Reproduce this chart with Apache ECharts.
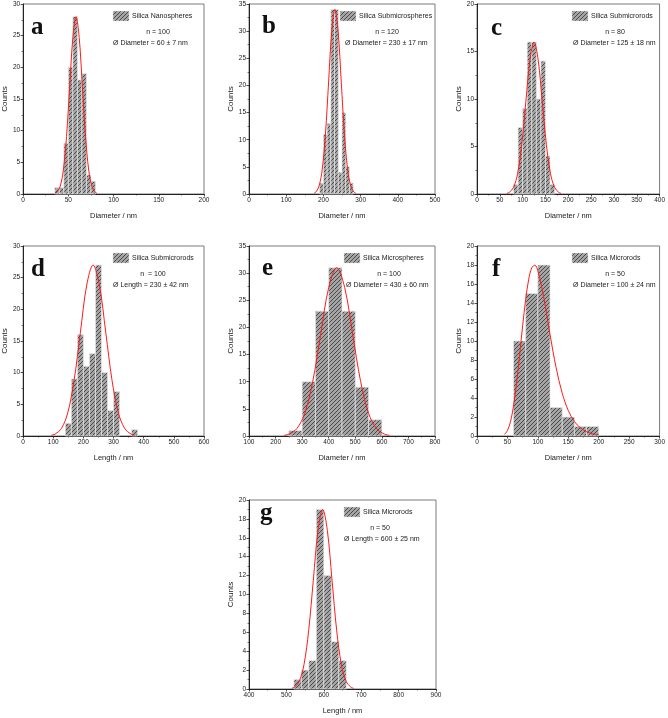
<!DOCTYPE html>
<html><head><meta charset="utf-8">
<script src="https://cdn.jsdelivr.net/npm/echarts@6/dist/echarts.min.js"></script>
<style>html,body{margin:0;padding:0;background:#fff}#c{width:668px;height:718px}</style>
</head><body><div id="c"></div>
<script>
// ---------------- DATA ----------------
// histogram bins: lower edges, bin width, counts
const aBinStart = [35,40,45,50,55,60,65,70,75];            const aBinWidth = 5;  const aCounts = [1,1,8,20,28,18,19,3,2];
const bBinStart = [190,200,210,220,230,240,250,260,270];   const bBinWidth = 10; const bCounts = [2,11,13,34,34,4,15,5,2];
const cBinStart = [80,90,100,110,120,130,140,150,160];     const cBinWidth = 10; const cCounts = [1,7,9,16,16,10,14,4,1];
const dBinStart = [140,160,180,200,220,240,260,280,300,360]; const dBinWidth = 20; const dCounts = [2,9,16,11,13,27,10,4,7,1];
const eBinStart = [250,300,350,400,450,500,550];           const eBinWidth = 50; const eCounts = [1,10,23,31,23,9,3];
const fBinStart = [60,80,100,120,140,160,180];             const fBinWidth = 20; const fCounts = [10,15,18,3,2,1,1];
const gBinStart = [520,540,560,580,600,620,640];           const gBinWidth = 20; const gCounts = [1,2,3,19,12,5,3];

// fitted distribution curves
const aCurveX = [35.4,37.5,41,44.5,48,51.5,55,58.5,62,65.5,69,72.5,76,79.5,81.6];
const aCurveY = [0.12,0.31,1.23,3.79,9.09,16.98,24.71,28,24.71,16.98,9.09,3.79,1.23,0.31,0.12];
const bCurveX = [174.9,180,188.5,197,205.5,214,222.5,231,239.5,248,256.5,265,273.5,282,287.1];
const bCurveY = [0.15,0.38,1.49,4.6,11.04,20.62,30.01,34,30.01,20.62,11.04,4.6,1.49,0.38,0.15];
const cCurveX = [65.6,71,80,89,98,107,116,125,134,143,152,161,170,179,184.4];
const cCurveY = [0.07,0.18,0.7,2.16,5.2,9.7,14.12,16,14.12,9.7,5.2,2.16,0.7,0.18,0.07];
const dCurveX = [93.4,106,127,148,169,190,211,232,253,274,295,316,337,358,370.6];
const dCurveY = [0.12,0.3,1.19,3.65,8.77,16.38,23.83,27,23.83,16.38,8.77,3.65,1.19,0.3,0.12];
const eCurveX = [232,250,280,310,340,370,400,430,460,490,520,550,580,610,628];
const eCurveY = [0.13,0.34,1.36,4.19,10.07,18.8,27.36,31,27.36,18.8,10.07,4.19,1.36,0.34,0.13];
const fCurveX = [45,50,55,60,65,70,75,80,85,90,95,100,110,120,130,140,150,160,170,180,190,200];
const fCurveY = [0.16,0.57,1.5,3.15,5.55,8.5,11.6,14.4,16.51,17.71,17.98,17.39,14.49,10.68,7.19,4.51,2.68,1.53,0.85,0.46,0.24,0.13];
const gCurveX = [514.5,522,534.5,547,559.5,572,584.5,597,609.5,622,634.5,647,659.5,672,679.5];
const gCurveY = [0.08,0.21,0.83,2.57,6.17,11.52,16.77,19,16.77,11.52,6.17,2.57,0.83,0.21,0.08];

// axis ranges / ticks
const xMins = [0,0,0,0,100,0,400];
const xMaxs = [200,500,400,600,800,300,900];
const xIntervals = [50,100,50,100,100,50,100];
const yMaxs = [30,35,20,30,35,20,20];
const yIntervals = [5,5,5,5,5,2,2];

// texts
const panelLetters = ['a','b','c','d','e','f','g'];
const legendNames = ['Silica Nanospheres','Silica Submicrospheres','Silica Submicrorods','Silica Submicrorods','Silica Microspheres','Silica Microrods','Silica Microrods'];
const nLines = ['n = 100','n = 120','n = 80','n  = 100','n = 100','n = 50','n = 50'];
const statLines = ['Ø Diameter = 60 ± 7 nm','Ø Diameter = 230 ± 17 nm','Ø Diameter = 125 ± 18 nm','Ø Length = 230 ± 42 nm','Ø Diameter = 430 ± 60 nm','Ø Diameter = 100 ± 24 nm','Ø Length = 600 ± 25 nm'];
const xNames = ['Diameter / nm','Diameter / nm','Diameter / nm','Length / nm','Diameter / nm','Diameter / nm','Length / nm'];
const yName = 'Counts';

// ---------------- LAYOUT ----------------
const grids = [
  {left:18, top:4, width:186, height:190},
  {left:249, top:4, width:186, height:190},
  {left:477, top:4, width:186, height:190},
  {left:18, top:246, width:186, height:190},
  {left:249, top:246, width:186, height:190},
  {left:477, top:246, width:186, height:190},
  {left:249, top:500, width:187, height:189}
];
const yNameGaps = [11,13,13,11,13,13,13];
const rectRelX = [95,91,95,95,95,95,95];
const nRelX = [140,138,138,135,140,138,131];
const statRelX = [95,96,96,95,97,96,95];
const letterX = [31,262,491,31,262,492,260];
const letterBase = [36,35,37,278,277,278,522];

const binStarts = [aBinStart,bBinStart,cBinStart,dBinStart,eBinStart,fBinStart,gBinStart];
const binWidths = [aBinWidth,bBinWidth,cBinWidth,dBinWidth,eBinWidth,fBinWidth,gBinWidth];
const binCounts = [aCounts,bCounts,cCounts,dCounts,eCounts,fCounts,gCounts];
const curveXs = [aCurveX,bCurveX,cCurveX,dCurveX,eCurveX,fCurveX,gCurveX];
const curveYs = [aCurveY,bCurveY,cCurveY,dCurveY,eCurveY,fCurveY,gCurveY];

// hatch pattern
const pc = document.createElement('canvas');
pc.width = 4; pc.height = 4;
const pctx = pc.getContext('2d');
pctx.fillStyle = '#a4a4a4'; pctx.fillRect(0,0,4,4);
pctx.strokeStyle = '#4a4a4a'; pctx.lineWidth = 1;
pctx.beginPath(); pctx.moveTo(-1,1); pctx.lineTo(1,-1); pctx.moveTo(0,4); pctx.lineTo(4,0); pctx.moveTo(3,5); pctx.lineTo(5,3); pctx.stroke();
const hatch = {image: pc, repeat: 'repeat'};

const FONT = '"Liberation Sans", Arial, sans-serif';
const chart = echarts.init(document.getElementById('c'), null, {renderer:'canvas'});

const gridOpt = [], xAxes = [], yAxes = [], series = [], graphics = [];
grids.forEach((g, i) => {
  gridOpt.push(Object.assign({show:true, borderColor:'#7a7a7a', borderWidth:1, containLabel:false}, g));
  xAxes.push({
    type:'value', gridIndex:i, min:xMins[i], max:xMaxs[i], interval:xIntervals[i],
    name:xNames[i], nameLocation:'middle', nameGap:18,
    nameTextStyle:{fontSize:7.5, color:'#222', fontFamily:FONT},
    axisLine:{show:true, onZero:false, lineStyle:{color:'#222', width:1}},
    axisTick:{show:true, inside:false, length:2.5, lineStyle:{color:'#222', width:0.8}},
    minorTick:{show:true, splitNumber:2, length:1.5, lineStyle:{color:'#222', width:0.6}},
    splitLine:{show:false},
    axisLabel:{fontSize:6.5, color:'#222', margin:3, fontFamily:FONT}
  });
  yAxes.push({
    type:'value', gridIndex:i, min:0, max:yMaxs[i], interval:yIntervals[i],
    name:yName, nameLocation:'middle', nameGap:yNameGaps[i],
    nameTextStyle:{fontSize:8, color:'#222', fontFamily:FONT},
    axisLine:{show:true, onZero:false, lineStyle:{color:'#222', width:1}},
    axisTick:{show:true, inside:false, length:2.5, lineStyle:{color:'#222', width:0.8}},
    minorTick:{show:true, splitNumber:2, length:1.5, lineStyle:{color:'#222', width:0.6}},
    splitLine:{show:false},
    axisLabel:{fontSize:6.5, color:'#222', margin:3, fontFamily:FONT}
  });
  const bars = binStarts[i].map((s, k) => [s, s + binWidths[i], binCounts[i][k]]);
  series.push({
    type:'custom', xAxisIndex:i, yAxisIndex:i, data:bars,
    encode:{x:[0,1], y:2},
    renderItem:function(params, api){
      const p0 = api.coord([api.value(0), api.value(2)]);
      const p1 = api.coord([api.value(1), 0]);
      return {type:'rect', shape:{x:p0[0], y:p0[1], width:p1[0]-p0[0], height:p1[1]-p0[1]},
        style:{fill:hatch, stroke:'#e6e6e6', lineWidth:0.7}};
    },
    z:2
  });
  series.push({
    type:'line', xAxisIndex:i, yAxisIndex:i,
    data:curveXs[i].map((x, k) => [x, curveYs[i][k]]),
    smooth:0.35, showSymbol:false, symbol:'none',
    lineStyle:{color:'#ff1a1a', width:1}, z:3
  });
  // legend box + texts
  graphics.push({type:'rect', shape:{x:g.left + rectRelX[i], y:g.top + 7, width:16, height:10},
    style:{fill:hatch, stroke:'#dddddd', lineWidth:0.5}});
  graphics.push({type:'text', x:g.left + rectRelX[i] + 19, y:g.top + 12,
    style:{text:legendNames[i], font:'7px ' + FONT, fill:'#222', verticalAlign:'middle', textVerticalAlign:'middle', textAlign:'left'}});
  graphics.push({type:'text', x:g.left + nRelX[i], y:g.top + 28,
    style:{text:nLines[i], font:'7px ' + FONT, fill:'#222', verticalAlign:'middle', textVerticalAlign:'middle', textAlign:'center'}});
  graphics.push({type:'text', x:g.left + statRelX[i], y:g.top + 39,
    style:{text:statLines[i], font:'7px ' + FONT, fill:'#222', verticalAlign:'middle', textVerticalAlign:'middle', textAlign:'left'}});
  graphics.push({type:'text', x:letterX[i], y:letterBase[i] - 8,
    style:{text:panelLetters[i], font:'bold 25px "Liberation Serif", "Times New Roman", serif', fill:'#111', verticalAlign:'middle', textVerticalAlign:'middle', textAlign:'left'}});
});

chart.setOption({
  animation:false,
  backgroundColor:'#fff',
  grid:gridOpt, xAxis:xAxes, yAxis:yAxes, series:series,
  graphic:{elements:graphics}
});
</script>
</body></html>
